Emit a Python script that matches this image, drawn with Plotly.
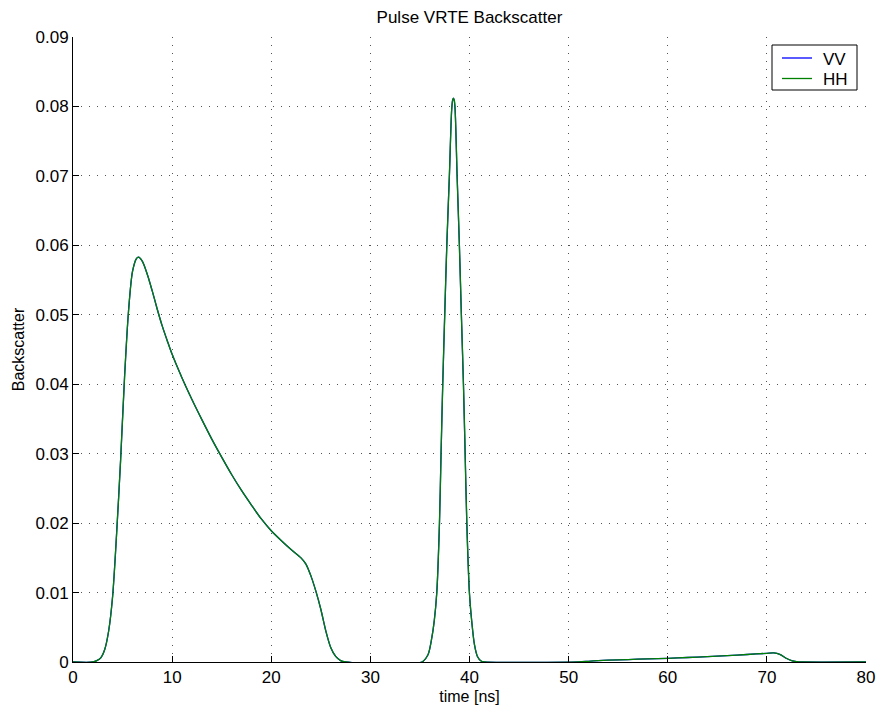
import plotly.graph_objects as go

# time axis [ns] and backscatter values
t_ns = [0, 2.0, 2.4, 2.8, 3.2, 3.6, 4.0, 4.4, 4.8, 5.2, 5.6, 6.0, 6.4, 6.6, 7.0, 7.5,
        8.0, 8.5, 9.0, 9.5, 10, 11, 12, 13, 14, 15, 16, 17, 18, 19, 20, 21, 22, 23, 23.5,
        24, 24.5, 25, 25.5, 26, 26.5, 27, 27.5, 35.2, 35.8, 36.2, 36.45, 36.7, 36.97,
        37.13, 37.3, 37.5, 37.71, 37.97, 38.2, 38.3, 38.38, 38.46, 38.55, 38.75, 38.98,
        39.18, 39.39, 39.56, 39.73, 39.99, 40.25, 40.5, 40.8, 41.2, 41.5, 51.0, 52, 53,
        54, 56, 58, 60, 62, 64, 66, 68, 70, 70.7, 71.3, 72, 72.5, 73, 73.5, 80]

vv = [0, 0, 0.0002, 0.0006, 0.0018, 0.0045, 0.0095, 0.0185, 0.029, 0.041, 0.0505,
      0.0562, 0.0581, 0.0583, 0.0577, 0.0558, 0.0534, 0.0508, 0.0484, 0.0463, 0.0443,
      0.0409, 0.0378, 0.0349, 0.0321, 0.0295, 0.0270, 0.0247, 0.0226, 0.0206, 0.0189,
      0.0175, 0.0162, 0.0150, 0.0141, 0.0124, 0.0102, 0.0076, 0.0045, 0.0021, 0.0008,
      0.0002, 0, 0, 0.001, 0.0035, 0.006, 0.010, 0.020, 0.030, 0.040, 0.050, 0.060,
      0.070, 0.0795, 0.0809, 0.0812, 0.0809, 0.0795, 0.070, 0.060, 0.050, 0.040, 0.030,
      0.020, 0.010, 0.0055, 0.0025, 0.0008, 0.0001, 0, 0, 0.0001, 0.0002, 0.00027,
      0.00035, 0.00045, 0.00053, 0.00065, 0.00078, 0.00092, 0.00108, 0.00125, 0.0013,
      0.0011, 0.0005, 0.0002, 0.00005, 0, 0]

hh = list(vv)

series_names = ["VV", "HH"]
series_colors = ["#0000ff", "#008000"]

x_ticks = [0, 10, 20, 30, 40, 50, 60, 70, 80]
y_ticks = [0, 0.01, 0.02, 0.03, 0.04, 0.05, 0.06, 0.07, 0.08, 0.09]
y_labels = ["0", "0.01", "0.02", "0.03", "0.04", "0.05", "0.06", "0.07", "0.08", "0.09"]

W, H = 881, 713
L, R, T, B = 73, 866, 37, 662


def px_x(px):
    return (px - L) / (R - L)


def px_y(py):
    return (B - py) / (B - T)


fig = go.Figure()
for name, col, ys in zip(series_names, series_colors, [vv, hh]):
    fig.add_trace(go.Scatter(x=t_ns, y=ys, mode="lines", name=name,
                             line=dict(color=col, width=1.3, shape="spline", smoothing=0.8)))

font = "Liberation Sans, Arial, Helvetica, sans-serif"
grid = dict(showgrid=True, gridcolor="#555555", griddash="1px,7px", gridwidth=1)

# legend box drawn in paper coordinates
shapes = [dict(type="rect", xref="paper", yref="paper",
               x0=px_x(772), x1=px_x(857), y0=px_y(90), y1=px_y(45),
               line=dict(color="black", width=1), fillcolor="white", layer="above")]
annotations = []
for i, (name, col) in enumerate(zip(series_names, series_colors)):
    py = 58 + i * 20.5
    shapes.append(dict(type="line", xref="paper", yref="paper",
                       x0=px_x(782), x1=px_x(812), y0=px_y(py), y1=px_y(py),
                       line=dict(color=col, width=1.3), layer="above"))
    annotations.append(dict(text=name, xref="paper", yref="paper", x=px_x(821), y=px_y(py + 1),
                            xanchor="left", yanchor="middle", showarrow=False,
                            font=dict(size=17, family=font, color="black")))

fig.update_layout(
    width=W, height=H,
    margin=dict(l=L, r=W - R, t=T, b=H - B, autoexpand=False),
    paper_bgcolor="white", plot_bgcolor="white",
    font=dict(family=font, size=16, color="black"),
    title=dict(text="Pulse VRTE Backscatter", x=(L + R) / 2 / W, xanchor="center",
               y=1 - 17 / H, yanchor="middle", font=dict(size=17, family=font, color="black")),
    showlegend=False,
    shapes=shapes,
    annotations=annotations,
    xaxis=dict(range=[0, 80], tickvals=x_ticks, ticktext=[str(v) for v in x_ticks],
               ticks="inside", ticklen=6, tickcolor="black", showline=True, linecolor="black",
               linewidth=1, zeroline=False, automargin=False,
               title=dict(text="time [ns]", standoff=4, font=dict(size=16)),
               tickfont=dict(size=17), **grid),
    yaxis=dict(range=[0, 0.09], tickvals=y_ticks, ticktext=y_labels,
               ticks="inside", ticklen=6, tickcolor="black", showline=True, linecolor="black",
               linewidth=1, zeroline=False, automargin=False,
               title=dict(text="Backscatter", standoff=6, font=dict(size=16)),
               tickfont=dict(size=17), **grid),
)

fig.write_html("out.html")
